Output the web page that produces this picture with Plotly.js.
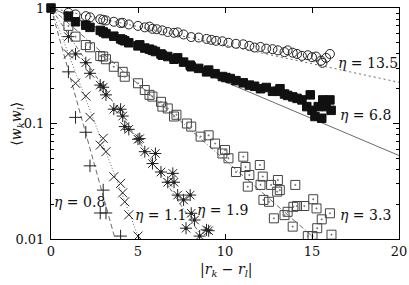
<!DOCTYPE html>
<html><head><meta charset="utf-8">
<script src="https://cdn.plot.ly/plotly-3.0.1.min.js"></script>
<style>body{margin:0;background:#fff}#c{width:409px;height:285px}</style>
</head><body><div id="c"></div>
<script>
// fit parameters (correlation lengths) and labels
const etaVals = [13.5, 6.8, 3.3, 1.9, 1.1, 0.8];
const etaLabels = ['13.5', '6.8', '3.3', '1.9', '1.1', '0.8'];

// eta = 13.5 (open circles)
const circX = [1,1.41,2,2.24,2.83,3,3.16,3.61,4,4.12,4.47,5,5.39,5.66,5.83,6.08,6.4,6.71,7.07,7.28,7.62,8.06,8.49,8.94,9.22,9.49,9.85,10.2,10.63,11.05,11.4,11.7,12.04,12.37,12.73,13.04,13.42,13.6,13.89,14.14,14.42,14.76,15.0,15.23,15.52,15.6,15.81,16.03];
const circY = [0.91,0.88,0.85,0.83,0.80,0.79,0.78,0.76,0.74,0.745,0.72,0.70,0.68,0.69,0.66,0.655,0.64,0.62,0.61,0.615,0.59,0.56,0.555,0.54,0.53,0.52,0.515,0.50,0.49,0.485,0.47,0.455,0.46,0.445,0.44,0.43,0.415,0.43,0.41,0.40,0.385,0.39,0.375,0.38,0.35,0.335,0.37,0.40];

// eta = 6.8 (filled squares)
const fsqX = [0,1,1.41,2,2.24,2.83,3,3.16,3.61,4,4.12,4.24,4.47,5,5.1,5.39,5.66,5.83,6,6.32,6.4,6.71,7.07,7.28,7.62,8,8.06,8.49,8.94,9.06,9.43,9.85,10.05,10.3,10.63,11.05,11.4,11.7,12.04,12.37,12.73,13.04,13.16,13.42,13.6,13.89,14.14,14.42,14.7,14.9,15.0,15.17,15.36,15.56,15.62,15.81,16.03,16.1];
const fsqY = [1,0.85,0.76,0.71,0.68,0.64,0.62,0.60,0.57,0.54,0.53,0.52,0.50,0.47,0.48,0.45,0.44,0.43,0.42,0.40,0.39,0.38,0.36,0.37,0.34,0.32,0.31,0.30,0.28,0.29,0.27,0.255,0.25,0.245,0.235,0.225,0.215,0.21,0.20,0.205,0.19,0.19,0.20,0.18,0.175,0.17,0.165,0.16,0.14,0.177,0.13,0.115,0.14,0.111,0.16,0.14,0.16,0.13];

// eta = 3.3 (open squares)
const osqX = [1,1.41,2,2.24,2.83,3,3.16,3.61,4.12,4.24,5,5.39,5.66,5.83,6.32,6.4,6.71,7.07,7.21,7.81,8.06,8.6,9.06,9.43,9.85,10,10.2,10.63,11.05,11.18,11.31,11.4,12,12.04,12.17,12.21,12.53,12.65,12.81,13,13.04,13.15,13.42,13.6,13.89,13.93,14.04,14.14,14.56,14.76,15.03,15.07,15.26,15.3,15.56,16.03,16.12];
const osqY = [0.70,0.565,0.478,0.457,0.384,0.38,0.36,0.31,0.28,0.254,0.223,0.195,0.177,0.171,0.154,0.14,0.135,0.115,0.119,0.10,0.094,0.077,0.079,0.067,0.055,0.059,0.05,0.038,0.0516,0.042,0.0284,0.0358,0.0437,0.0294,0.0347,0.0218,0.021,0.0294,0.0151,0.0257,0.0324,0.0265,0.0161,0.0172,0.0128,0.019,0.0294,0.0193,0.0193,0.0106,0.0106,0.0221,0.0184,0.0124,0.0148,0.0167,0.0109];

// eta = 1.9 (stars)
const starX = [1,1.41,2,2.24,2.83,3,3.16,3.61,4,4.12,4.24,4.47,5,5.1,5.39,5.83,6,6.32,6.71,7,7.07,7.28,7.62,7.76,8,8.06,8.25,8.54,8.94,9.06];
const starY = [0.565,0.40,0.336,0.272,0.215,0.206,0.177,0.133,0.133,0.116,0.094,0.089,0.073,0.074,0.057,0.045,0.055,0.038,0.031,0.037,0.031,0.024,0.0218,0.0124,0.024,0.0167,0.0146,0.0106,0.012,0.0118];

// eta = 1.1 (crosses x)
const xX = [1,1.41,2,2.24,2.83,3,3.16,3.61,4,4.12,4.24,4.47,5];
const xY = [0.40,0.223,0.173,0.113,0.065,0.0744,0.057,0.0346,0.0303,0.0251,0.021,0.0162,0.0106];

// eta = 0.8 (plus)
const pX = [1,1.41,2,2.24,2.83,3,3.16,4];
const pY = [0.28,0.113,0.084,0.043,0.0168,0.0265,0.0168,0.0106];

const xMax = 20;
const dashes = ['2px,3px', 'solid', '5px,2px,1px,2px', '4px,2px,1px,2px', '1px,2px', '5px,3px'];
const ink = '#222';
const traces = [];
etaVals.forEach((e, i) => {
  traces.push({x: [0, xMax], y: [1, Math.exp(-xMax / e)], mode: 'lines', type: 'scatter',
    line: {color: '#444', width: 0.8, dash: dashes[i]}, hoverinfo: 'skip', showlegend: false});
});
function pts(x, y, symbol, size, color, extra) {
  return Object.assign({x: x, y: y, mode: 'markers', type: 'scatter', showlegend: false,
    marker: {symbol: symbol, size: size, color: color, line: {color: color, width: 1}}}, extra || {});
}
traces.push(pts(pX, pY, 'cross-thin-open', 9, ink));
traces.push(pts(xX, xY, 'x-thin-open', 9, ink));
traces.push(pts(starX, starY, 'asterisk-open', 10, ink));
traces.push(pts(starX, starY, 'circle', 2.5, ink));
traces.push(pts(osqX, osqY, 'square-open', 9, '#444'));
traces.push(pts(osqX, osqY, 'circle', 1.2, '#777'));
traces.push(pts(circX, circY, 'circle-open', 9, ink));
traces.push(pts(fsqX, fsqY, 'square', 8.5, '#111', {cliponaxis: false}));

const labelPos = [[16.4, -0.476], [16.5, -0.926], [16.5, -1.792], [8.25, -1.749], [4.72, -1.792], [0.06, -1.68]];
const serif = 'DejaVu Serif';
const ann = etaLabels.map((t, i) => ({
  x: labelPos[i][0], y: labelPos[i][1], xref: 'x', yref: 'y', xanchor: 'left', yanchor: 'middle',
  text: '<i>η</i> = ' + t, showarrow: false, font: {family: serif, size: 14, color: '#111'}
}));
ann.push({xref: 'paper', yref: 'paper', x: -0.1, y: 0.5, xanchor: 'center', yanchor: 'middle', textangle: -90,
  text: '⟨<i>w</i><sub><i>k</i></sub><i>w</i><sub><i>l</i></sub>⟩', showarrow: false, font: {family: serif, size: 14, color: '#111'}});
ann.push({xref: 'paper', yref: 'paper', x: 0.503, y: -0.134, xanchor: 'center', yanchor: 'middle',
  text: '|<i>r</i><sub><i>k</i></sub> − <i>r</i><sub><i>l</i></sub>|', showarrow: false, font: {family: serif, size: 14, color: '#111'}});

const layout = {
  width: 409, height: 285, margin: {l: 51, r: 10, t: 8, b: 46},
  paper_bgcolor: '#fff', plot_bgcolor: '#fff', showlegend: false,
  font: {family: serif, size: 14, color: '#111'},
  xaxis: {range: [0, 20], tickvals: [0, 5, 10, 15, 20], ticktext: ['0', '5', '10', '15', '20'],
    ticks: 'inside', ticklen: 5, tickcolor: '#000', linecolor: '#000', linewidth: 1, mirror: 'ticks',
    showgrid: false, zeroline: false, tickfont: {family: serif, size: 13, color: '#111'},
    ticklabeloverflow: 'allow'},
  yaxis: {type: 'log', range: [-2, 0], tickvals: [0.01, 0.1, 1], ticktext: ['0.01', '0.1', '1'],
    ticks: 'inside', ticklen: 6, tickcolor: '#000', linecolor: '#000', linewidth: 1, mirror: 'ticks',
    showgrid: false, zeroline: false, tickfont: {family: serif, size: 13, color: '#111'},
    ticklabeloverflow: 'allow', ticklabelstandoff: 3,
    minor: {ticks: 'inside', ticklen: 3, tickcolor: '#000', tickvals: [0.02,0.03,0.04,0.05,0.06,0.07,0.08,0.09,0.2,0.3,0.4,0.5,0.6,0.7,0.8,0.9], showgrid: false}},
  annotations: ann
};
Plotly.newPlot('c', traces, layout, {staticPlot: true});
</script></body></html>
